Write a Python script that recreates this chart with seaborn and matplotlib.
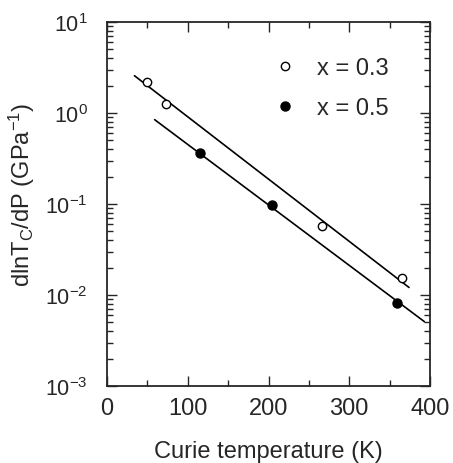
import matplotlib
matplotlib.use("Agg")
import matplotlib.pyplot as plt
import seaborn as sns
import numpy as np
import pandas as pd
from matplotlib.ticker import LogLocator, MultipleLocator

# Data
tc_03 = [49, 73, 266, 365]
dl_03 = [2.2, 1.26, 0.058, 0.0152]
tc_05 = [115, 204, 359]
dl_05 = [0.36, 0.0975, 0.0081]
# fitted lines (endpoints)
fit03_x = [34, 374]
fit03_y = [2.57, 0.0121]
fit05_x = [59, 393]
fit05_y = [0.845, 0.0051]
labels = ["x = 0.3", "x = 0.5"]

sns.set_style("ticks")
plt.rcParams['font.family'] = ['Liberation Sans', 'DejaVu Sans']
plt.rcParams['mathtext.fontset'] = 'custom'
plt.rcParams['mathtext.rm'] = 'Liberation Sans'
plt.rcParams['mathtext.default'] = 'regular'

FS = 17
fig = plt.figure(figsize=(4.53, 4.64), dpi=100)
ax = fig.add_axes([107/453, 1-387/464, 323/453, 364/464])

sns.lineplot(x=fit03_x, y=fit03_y, ax=ax, color='black', lw=1.2)
sns.lineplot(x=fit05_x, y=fit05_y, ax=ax, color='black', lw=1.2)
ax.plot(tc_03, dl_03, 'o', ms=6, mfc='white', mec='black', mew=1.0, label=labels[0], linestyle='none')
ax.plot(tc_05, dl_05, 'o', ms=6.5, mfc='black', mec='black', label=labels[1], linestyle='none')

ax.set_yscale('log')
ax.set_xlim(0, 400)
ax.set_ylim(1e-3, 1e1)
ax.xaxis.set_major_locator(MultipleLocator(100))
ax.xaxis.set_minor_locator(MultipleLocator(50))
ax.yaxis.set_major_locator(LogLocator(base=10, numticks=10))
ax.yaxis.set_minor_locator(LogLocator(base=10, subs=np.arange(2, 10), numticks=20))
ax.tick_params(which='both', direction='in', top=True, right=True, width=1.0)
ax.tick_params(axis='x', labelsize=FS)
ax.tick_params(axis='y', labelsize=15.5)
ax.tick_params(axis='x', which='major', length=7, pad=8)
ax.tick_params(axis='y', which='major', length=7, pad=14)
ax.tick_params(which='minor', length=4)
for s in ax.spines.values():
    s.set_linewidth(1.3)

ax.set_xlabel('Curie temperature (K)', fontsize=FS, labelpad=15)
ax.set_ylabel(r'dlnT$_{C}$/dP (GPa$^{-1}$)', fontsize=FS)
ax.yaxis.set_label_coords(-0.218, 0.529)

leg = ax.legend(loc='upper left', frameon=False, fontsize=FS, handlelength=1.0,
                handletextpad=0.85, labelspacing=0.78,
                bbox_to_anchor=(0.486, 0.93), borderaxespad=0)

fig.savefig('out.png', dpi=100)
